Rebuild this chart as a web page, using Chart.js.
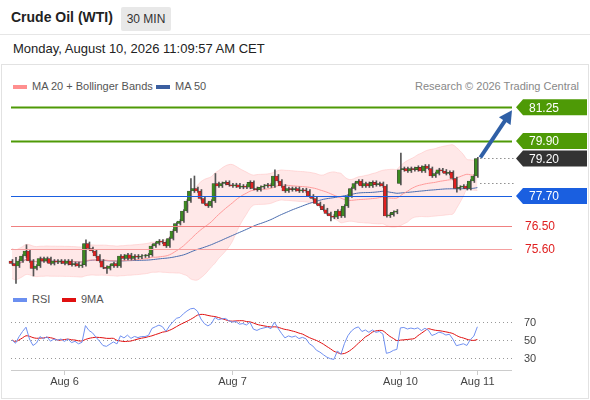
<!DOCTYPE html>
<html>
<head>
<meta charset="utf-8">
<script src="https://cdn.jsdelivr.net/npm/chart.js@4.4.0/dist/chart.umd.min.js"></script>
<style>
  body { margin: 0; width: 590px; height: 400px; font-family: Arial, "Liberation Sans", sans-serif; background: #fff; position: relative; overflow: hidden; }
  .abs { position: absolute; white-space: nowrap; }
  #title { left: 11px; top: 9px; font-size: 14px; font-weight: bold; color: #222; }
  #tf { left: 121px; top: 7px; width: 50px; height: 24px; line-height: 24px; background: #e8e8e8; border-radius: 2px; font-size: 12px; text-align: center; color: #333; }
  #topline { left: 0; top: 34px; width: 590px; height: 1px; background: #e6e6e6; }
  #date { left: 13px; top: 41px; font-size: 13px; color: #222; }
  #frame { left: 1px; top: 64px; width: 586px; height: 333px; border: 1px solid #e2e2e2; }
  .leg { font-size: 11px; color: #555; }
  .sw { display: inline-block; width: 14px; height: 4px; vertical-align: middle; margin-right: 5px; }
</style>
</head>
<body>
<div id="title" class="abs">Crude Oil (WTI)</div>
<div id="tf" class="abs">30 MIN</div>
<div id="topline" class="abs"></div>
<div id="date" class="abs">Monday, August 10, 2026 11:09:57 AM CET</div>
<div id="frame" class="abs"></div>
<div class="abs leg" style="left:13px;top:80px"><span class="sw" style="background:#ff8f8f"></span>MA 20 + Bollinger Bands</div>
<div class="abs leg" style="left:156px;top:80px"><span class="sw" style="background:#3b5fa0"></span>MA 50</div>
<div class="abs leg" style="right:11px;top:80px;color:#888">Research © 2026 Trading Central</div>
<div class="abs leg" style="left:13px;top:293px"><span class="sw" style="background:#6b8ff0"></span>RSI</div>
<div class="abs leg" style="left:62px;top:293px"><span class="sw" style="background:#e01010"></span>9MA</div>
<canvas id="main" class="abs" style="left:0;top:95px" width="590" height="190"></canvas>
<canvas id="rsi" class="abs" style="left:0;top:305px" width="590" height="90"></canvas>
<script>
// closes of each 30 min candle
const closes = [75.0,74.9,75.1,75.3,75.5,75.1,74.8,74.9,75.2,75.1,75.2,75.0,75.1,75.05,75.1,75.0,75.1,74.95,75.0,74.9,
  74.95,75.8,75.6,75.5,75.3,75.1,74.85,74.8,74.9,75.0,74.9,75.3,75.2,75.35,75.2,75.3,75.25,75.3,75.3,75.35,
  75.7,75.8,75.9,75.85,75.7,76.0,76.3,76.6,76.7,77.1,77.5,77.9,78.0,77.9,77.6,77.4,77.3,77.5,78.2,78.1,
  78.2,78.25,78.15,78.1,78.15,78.05,78.1,78.05,78.25,78.0,77.95,78.05,78.1,78.15,78.1,78.5,78.3,78.1,77.9,78.0,
  77.95,78.0,77.9,77.95,77.9,77.7,77.6,77.4,77.3,77.15,77.0,76.9,76.85,77.1,76.9,77.3,77.7,78.0,78.2,78.3,
  78.1,78.2,78.1,78.25,78.15,78.2,78.1,76.9,76.95,77.05,77.1,78.75,78.8,78.7,78.8,78.75,78.85,78.7,78.9,78.8,
  78.5,78.6,78.75,78.7,78.6,78.65,78.4,78.0,78.05,78.1,78.0,78.3,78.5,79.2];
const openFix = { 0: 75.1, 107: 78.1, 111: 78.2 };
const highFix = { 1: 75.25, 4: 75.75, 21: 75.95, 51: 78.4, 52: 78.5, 58: 78.6, 75: 78.75, 111: 79.42, 133: 79.25 };
const lowFix = { 1: 74.2, 6: 74.5, 27: 74.6, 91: 76.7, 107: 76.85, 127: 77.85 };
const levels = [81.25, 79.90, 77.70, 76.50, 75.60];
const rsiTicks = [70, 50, 30];
const dateLabels = ['Aug 6', 'Aug 7', 'Aug 10', 'Aug 11'];
const dateIdx = [15, 63, 111, 133];

const idx = closes.map((c, i) => i);
const opens = closes.map((c, i) => openFix[i] !== undefined ? openFix[i] : closes[i - 1]);
const highs = closes.map((c, i) => highFix[i] !== undefined ? highFix[i] : Math.max(c, opens[i]) + 0.06);
const lows = closes.map((c, i) => lowFix[i] !== undefined ? lowFix[i] : Math.min(c, opens[i]) - 0.06);

function sma(arr, n, i) {
  const s = arr.slice(Math.max(0, i - n + 1), i + 1);
  return s.reduce((a, b) => a + b, 0) / s.length;
}
const ma20 = closes.map((c, i) => sma(closes, 20, i));
const ma50 = closes.map((c, i) => sma(closes, 50, i));
const sd20 = closes.map((c, i) => {
  const s = closes.slice(Math.max(0, i - 19), i + 1), m = ma20[i];
  return Math.sqrt(s.reduce((a, b) => a + (b - m) * (b - m), 0) / s.length);
});
const bbUp = ma20.map((m, i) => m + 2 * Math.max(sd20[i], 0.3));
const bbLo = ma20.map((m, i) => m - 2 * Math.max(sd20[i], 0.3));

// RSI 14 (Wilder) and its 9 MA
let ag = 0.05, al = 0.05;
const rsi = closes.map((c, i) => {
  if (i > 0) {
    const d = c - closes[i - 1];
    ag = (ag * 13 + Math.max(d, 0)) / 14;
    al = (al * 13 + Math.max(-d, 0)) / 14;
  }
  return 100 - 100 / (1 + ag / al);
});
const rsi9 = rsi.map((r, i) => sma(rsi, 9, i));

const GREEN = '#3d8b1f', RED = '#e02020';
const colors = closes.map((c, i) => c >= opens[i] ? GREEN : RED);
const xScale = { type: 'linear', min: -1.14, max: 142.9, display: false };

const levelPlugin = {
  id: 'levels',
  afterDatasetsDraw(chart) {
    const { ctx, scales: { x, y }, chartArea } = chart;
    const right = chartArea.right;
    const lineCol = ['#4e9a06', '#4e9a06', '#1a5fe0', '#f08080', '#f5a0a0'];
    ctx.save();
    levels.forEach((v, k) => {
      const py = Math.round(y.getPixelForValue(v)) + 0.5;
      ctx.strokeStyle = lineCol[k];
      ctx.lineWidth = k < 2 ? 2 : 1;
      ctx.beginPath(); ctx.moveTo(11, py); ctx.lineTo(right, py); ctx.stroke();
    });
    // dotted to current price and ma
    const last = closes.length - 1;
    ctx.setLineDash([1, 3]); ctx.strokeStyle = '#555'; ctx.lineWidth = 1;
    [[closes[last], x.getPixelForValue(last) + 3], [ma50[last] + 0.2, x.getPixelForValue(last) + 3]].forEach(([v, sx]) => {
      const py = Math.round(y.getPixelForValue(v)) + 0.5;
      ctx.beginPath(); ctx.moveTo(sx, py); ctx.lineTo(right + 3, py); ctx.stroke();
    });
    ctx.setLineDash([]);
    // arrow
    const ax0 = x.getPixelForValue(last) + 3, ay0 = y.getPixelForValue(closes[last]) - 1;
    const ax1 = right, ay1 = y.getPixelForValue(81.25) + 3;
    ctx.strokeStyle = '#2f5fa6'; ctx.fillStyle = '#2f5fa6'; ctx.lineWidth = 4;
    const ang = Math.atan2(ay1 - ay0, ax1 - ax0);
    ctx.beginPath(); ctx.moveTo(ax0, ay0); ctx.lineTo(ax1 - 8 * Math.cos(ang), ay1 - 8 * Math.sin(ang)); ctx.stroke();
    ctx.beginPath(); ctx.moveTo(ax1, ay1);
    ctx.lineTo(ax1 - 13 * Math.cos(ang) + 7 * Math.sin(ang), ay1 - 13 * Math.sin(ang) - 7 * Math.cos(ang));
    ctx.lineTo(ax1 - 13 * Math.cos(ang) - 7 * Math.sin(ang), ay1 - 13 * Math.sin(ang) + 7 * Math.cos(ang));
    ctx.closePath(); ctx.fill();
    // labels
    ctx.font = '12px Arial, "Liberation Sans"'; ctx.textBaseline = 'middle';
    const boxes = [[81.25, '#4e9a06', '#fff'], [79.90, '#4e9a06', '#fff'], [closes[last], '#333', '#fff'], [77.70, '#1a5fe0', '#fff']];
    boxes.forEach(([v, bg, fg]) => {
      const py = y.getPixelForValue(v), bx = right + 4;
      ctx.fillStyle = bg;
      ctx.beginPath(); ctx.moveTo(bx, py); ctx.lineTo(bx + 7, py - 8); ctx.lineTo(587, py - 8);
      ctx.lineTo(587, py + 8); ctx.lineTo(bx + 7, py + 8); ctx.closePath(); ctx.fill();
      ctx.fillStyle = fg; ctx.fillText(v.toFixed(2), bx + 13, py + 1);
    });
    ctx.fillStyle = RED;
    [76.50, 75.60].forEach(v => ctx.fillText(v.toFixed(2), right + 13, y.getPixelForValue(v) + 1));
    ctx.restore();
  }
};

new Chart(document.getElementById('main'), {
  data: {
    labels: idx,
    datasets: [
      { type: 'line', data: idx.map(i => ({ x: i, y: bbUp[i] })), borderColor: 'rgba(255,190,190,0.5)', borderWidth: 1, pointRadius: 0, tension: 0.4, fill: '+1', backgroundColor: 'rgba(255,205,205,0.45)', order: 5 },
      { type: 'line', data: idx.map(i => ({ x: i, y: bbLo[i] })), borderColor: 'rgba(255,190,190,0.5)', borderWidth: 1, pointRadius: 0, tension: 0.4, order: 5 },
      { type: 'line', data: idx.map(i => ({ x: i, y: ma20[i] })), borderColor: '#ff9a9a', borderWidth: 1, pointRadius: 0, tension: 0.4, order: 4 },
      { type: 'line', data: idx.map(i => ({ x: i, y: ma50[i] })), borderColor: '#4a6cae', borderWidth: 1, pointRadius: 0, tension: 0.4, order: 4 },
      { type: 'bar', data: idx.map(i => ({ x: i, y: [lows[i], highs[i]] })), backgroundColor: '#555', barThickness: 1, order: 2 },
      { type: 'bar', data: idx.map(i => ({ x: i, y: [opens[i], closes[i] === opens[i] ? closes[i] + 0.02 : closes[i]] })), backgroundColor: colors, borderColor: '#333', borderWidth: 0.5, borderSkipped: false, barThickness: 3, order: 1 }
    ]
  },
  options: {
    responsive: false, animation: false, events: [],
    layout: { padding: { left: 8, right: 78, top: 0, bottom: 0 } },
    plugins: { legend: { display: false }, tooltip: { enabled: false } },
    scales: { x: { ...xScale, offset: false }, y: { min: 74.14, max: 81.74, display: false } }
  },
  plugins: [levelPlugin]
});

const rsiPlugin = {
  id: 'rsiAxes',
  beforeDatasetsDraw(chart) {
    const { ctx, scales: { x, y }, chartArea } = chart;
    ctx.save();
    ctx.setLineDash([1, 3]); ctx.strokeStyle = '#999'; ctx.lineWidth = 1;
    ctx.font = '11px Arial, "Liberation Sans"'; ctx.fillStyle = '#444'; ctx.textBaseline = 'middle';
    rsiTicks.forEach(t => {
      const py = Math.round(y.getPixelForValue(t)) + 0.5;
      ctx.beginPath(); ctx.moveTo(11, py); ctx.lineTo(chartArea.right, py); ctx.stroke();
      ctx.fillText(String(t), 524, py);
    });
    ctx.setLineDash([]);
    ctx.strokeStyle = '#ccc';
    ctx.beginPath(); ctx.moveTo(11, 65.5); ctx.lineTo(chartArea.right, 65.5); ctx.stroke();
    ctx.fillStyle = '#444'; ctx.textAlign = 'center';
    dateLabels.forEach((l, k) => {
      const px = Math.round(x.getPixelForValue(dateIdx[k])) + 0.5;
      ctx.beginPath(); ctx.moveTo(px, 65); ctx.lineTo(px, 70); ctx.stroke();
      ctx.fillText(l, px, 77);
    });
    ctx.restore();
  }
};

new Chart(document.getElementById('rsi'), {
  type: 'line',
  data: {
    datasets: [
      { data: idx.map(i => ({ x: i, y: rsi[i] })), borderColor: '#7090f0', borderWidth: 1, pointRadius: 0 },
      { data: idx.map(i => ({ x: i, y: rsi9[i] })), borderColor: '#e01010', borderWidth: 1, pointRadius: 0, tension: 0.3 }
    ]
  },
  options: {
    responsive: false, animation: false, events: [],
    layout: { padding: { left: 8, right: 78, top: 0, bottom: 0 } },
    plugins: { legend: { display: false }, tooltip: { enabled: false } },
    scales: { x: xScale, y: { min: -11.1, max: 88.9, display: false } }
  },
  plugins: [rsiPlugin]
});
</script>
</body>
</html>
